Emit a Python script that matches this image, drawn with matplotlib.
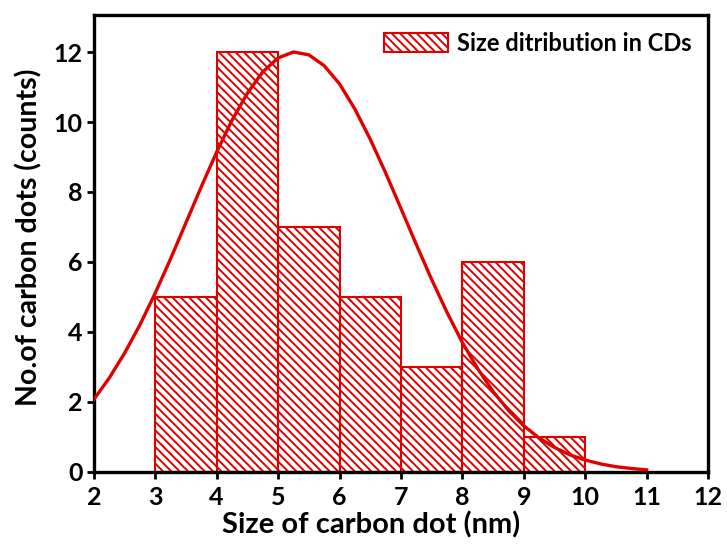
import numpy as np
import matplotlib.pyplot as plt

# histogram bins (nm) and counts
bin_left = [3, 4, 5, 6, 7, 8, 9]
counts = [5, 12, 7, 5, 3, 6, 1]
bin_width = 1.0

# fitted curve
fit_x = [2.0, 2.25, 2.5, 2.75, 3.0, 3.25, 3.5, 3.75, 4.0, 4.25, 4.5, 4.75,
         5.0, 5.25, 5.5, 5.75, 6.0, 6.25, 6.5, 6.75, 7.0, 7.25, 7.5, 7.75,
         8.0, 8.25, 8.5, 8.75, 9.0, 9.25, 9.5, 9.75, 10.0, 10.25, 10.5,
         10.75, 11.0]
fit_y = [2.07, 2.68, 3.39, 4.20, 5.11, 6.09, 7.12, 8.15, 9.14, 10.05, 10.82,
         11.43, 11.83, 12.0, 11.92, 11.61, 11.09, 10.37, 9.51, 8.55, 7.53,
         6.50, 5.50, 4.56, 3.70, 2.95, 2.30, 1.76, 1.32, 0.97, 0.70, 0.49,
         0.34, 0.23, 0.15, 0.10, 0.06]

xticks = [2, 3, 4, 5, 6, 7, 8, 9, 10, 11, 12]
yticks = [0, 2, 4, 6, 8, 10, 12]

red = "#e00000"
plt.rcParams["font.family"] = ["Lato", "DejaVu Sans"]
plt.rcParams["hatch.linewidth"] = 1.4

fig = plt.figure(figsize=(7.27, 5.45), dpi=100)
ax = fig.add_axes([0.129, 0.134, 0.845, 0.838])

ax.bar(bin_left, counts, width=bin_width, align="edge", facecolor="white",
       edgecolor=red, hatch="\\\\\\\\", linewidth=1.5,
       label="Size ditribution in CDs", zorder=2)
ax.plot(fit_x, fit_y, color=red, linewidth=2.4, zorder=3)

ax.set_xlim(2, 12)
ax.set_ylim(0, 13.05)
ax.set_xticks(xticks)
ax.set_yticks(yticks)

for s in ax.spines.values():
    s.set_linewidth(2.4)
ax.tick_params(direction="out", length=5, width=2, labelsize=18, pad=3)
ax.tick_params(axis="x", pad=5)
for lab in ax.get_xticklabels() + ax.get_yticklabels():
    lab.set_fontweight("bold")

ax.set_xlabel("Size of carbon dot (nm)", fontsize=21, fontweight="bold")
ax.set_ylabel("No.of carbon dots (counts)", fontsize=20.5, fontweight="bold")
ax.xaxis.set_label_coords(0.452, -0.086)
ax.yaxis.set_label_coords(-0.083, 0.513)

leg = ax.legend(loc="upper right", frameon=False,
                prop={"weight": "bold", "size": 17},
                handlelength=2.7, handleheight=0.9, handletextpad=0.4,
                borderaxespad=0.3)

fig.savefig("out.png", dpi=100)
